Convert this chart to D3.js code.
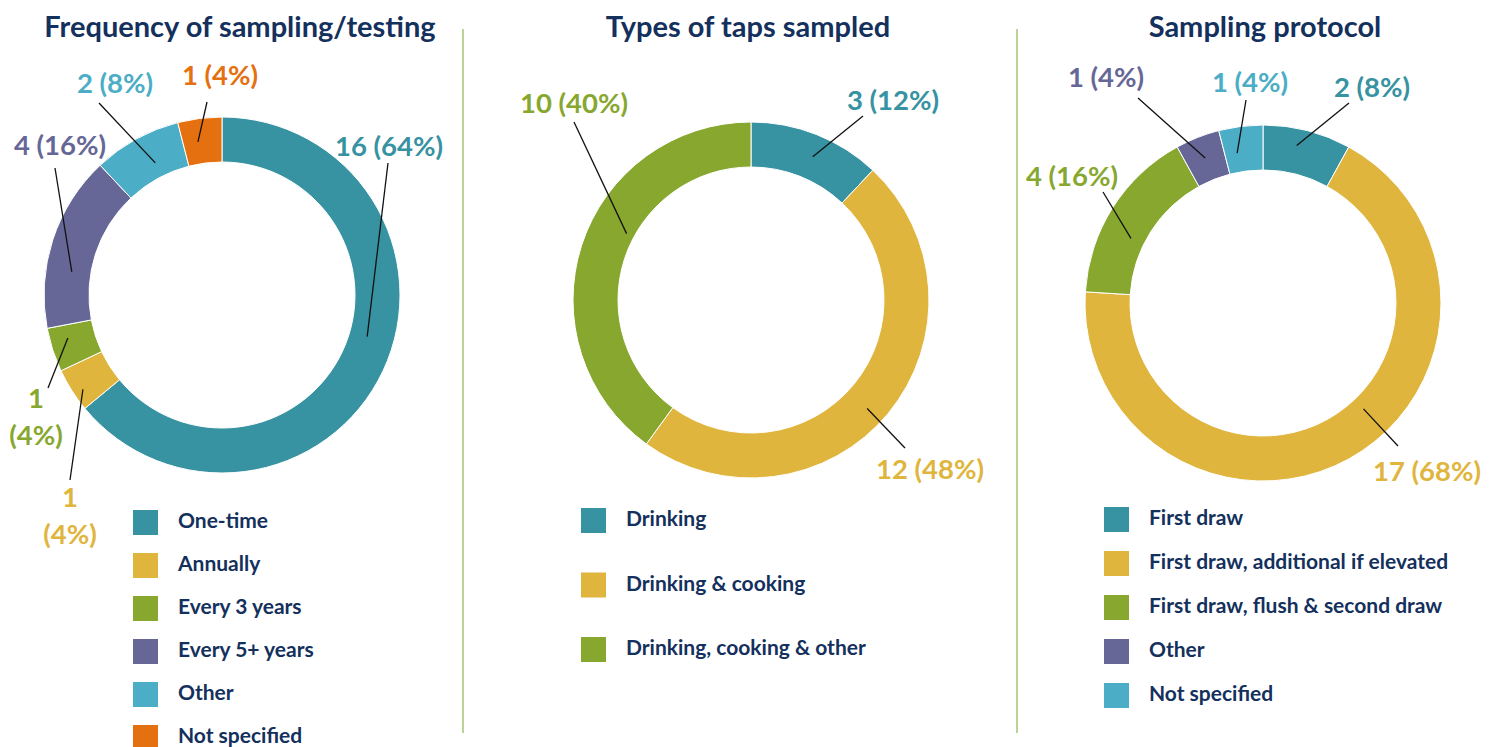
<!DOCTYPE html>
<html>
<head>
<meta charset="utf-8">
<script src="https://cdn.jsdelivr.net/npm/d3@7"></script>
<style>
  html, body { margin: 0; padding: 0; background: #fff; }
  svg { display: block; font-family: "Source Sans Pro", Lato, "Noto Sans", sans-serif; font-weight: 700; }
</style>
</head>
<body>
<svg id="chart" width="1497" height="747"></svg>
<script>
// ---------- data ----------
const titles = ["Frequency of sampling/testing", "Types of taps sampled", "Sampling protocol"];

const freqCategories = ["One-time", "Annually", "Every 3 years", "Every 5+ years", "Other", "Not specified"];
const freqValues     = [16, 1, 1, 4, 2, 1];
const freqLabels     = [["16 (64%)"], ["1", "(4%)"], ["1", "(4%)"], ["4 (16%)"], ["2 (8%)"], ["1 (4%)"]];

const tapCategories  = ["Drinking", "Drinking & cooking", "Drinking, cooking & other"];
const tapValues      = [3, 12, 10];
const tapLabels      = [["3 (12%)"], ["12 (48%)"], ["10 (40%)"]];

const protoCategories = ["First draw", "First draw, additional if elevated", "First draw, flush & second draw", "Other", "Not specified"];
const protoValues     = [2, 17, 4, 1, 1];
const protoLabels     = [["2 (8%)"], ["17 (68%)"], ["4 (16%)"], ["1 (4%)"], ["1 (4%)"]];

// ---------- styles ----------
const C = { teal: "#3792a1", yellow: "#e0b53d", green: "#87a72f", purple: "#676797", sky: "#4badc6", orange: "#e5700f" };
const navy = "#14305c";

const freqColors  = [C.teal, C.yellow, C.green, C.purple, C.sky, C.orange];
const tapColors   = [C.teal, C.yellow, C.green];
const protoColors = [C.teal, C.yellow, C.green, C.purple, C.sky];

// label layout: t = position along slice for leader start, r = leader start radius,
// e = leader outer end (offset from centre), l = label anchor (offset from centre)
const freqLayout = [
  { t: 0.46, r: 151, e: [166, -132], l: [167, -139] },
  { t: 0.38, r: 168, e: [-152, 185], l: [-152, 212] },
  { t: 0.67, r: 160, e: [-174, 93],  l: [-186, 113] },
  { t: 0.34, r: 152, e: [-167, -127], l: [-162, -140] },
  { t: 0.57, r: 148, e: [-123, -192], l: [-107, -202] },
  { t: 0.38, r: 155, e: [-15, -193], l: [-2, -210] }
];
const tapLayout = [
  { t: 0.54, r: 156, e: [112, -184], l: [142, -190] },
  { t: 0.52, r: 159, e: [154, 148],  l: [179, 179] },
  { t: 0.57, r: 141, e: [-177, -178], l: [-177, -187] }
];
const protoLayout = [
  { t: 0.42, r: 161, e: [86, -200],  l: [109, -206] },
  { t: 0.44, r: 146, e: [135, 143],  l: [164, 178] },
  { t: 0.39, r: 147, e: [-160, -111], l: [-191, -117] },
  { t: 0.49, r: 156, e: [-125, -205], l: [-157, -216] },
  { t: 0.32, r: 152, e: [-17, -203], l: [-13, -211] }
];

const charts = [
  { title: titles[0], titleX: 240, cats: freqCategories, vals: freqValues, labels: freqLabels, colors: freqColors, layout: freqLayout,
    cx: 222, cy: 295, legX: 133, legY: 510, legStep: 43 },
  { title: titles[1], titleX: 748, cats: tapCategories, vals: tapValues, labels: tapLabels, colors: tapColors, layout: tapLayout,
    cx: 751, cy: 300, legX: 581, legY: 508, legStep: 64.5 },
  { title: titles[2], titleX: 1265, cats: protoCategories, vals: protoValues, labels: protoLabels, colors: protoColors, layout: protoLayout,
    cx: 1263, cy: 303, legX: 1104, legY: 507, legStep: 44 }
];

const outerR = 178, innerR = 133;
const svg = d3.select("#chart");

// dividers
[463, 1017].forEach(x => {
  svg.append("line").attr("x1", x).attr("x2", x).attr("y1", 29).attr("y2", 733)
    .attr("stroke", "#a3c574").attr("stroke-width", 1.5);
});

const pie = d3.pie().sort(null).value(d => d);
const arc = d3.arc().innerRadius(innerR).outerRadius(outerR);

charts.forEach(ch => {
  svg.append("text").attr("x", ch.titleX).attr("y", 37).attr("text-anchor", "middle")
    .attr("fill", navy).attr("font-size", 29).text(ch.title);

  const g = svg.append("g").attr("transform", `translate(${ch.cx},${ch.cy})`);
  const arcs = pie(ch.vals);

  g.selectAll("path.slice").data(arcs).join("path")
    .attr("class", "slice")
    .attr("d", arc)
    .attr("fill", (d, i) => ch.colors[i])
    .attr("stroke", "#fff").attr("stroke-width", 1);

  // leader lines
  arcs.forEach((d, i) => {
    const L = ch.layout[i];
    const a = d.startAngle + (d.endAngle - d.startAngle) * L.t;
    const p = d3.arc().innerRadius(L.r).outerRadius(L.r).centroid({ startAngle: a, endAngle: a });
    g.append("line").attr("x1", p[0]).attr("y1", p[1]).attr("x2", L.e[0]).attr("y2", L.e[1])
      .attr("stroke", "#111").attr("stroke-width", 1.3);
    const t = g.append("text").attr("text-anchor", "middle").attr("fill", ch.colors[i]).attr("font-size", 27.5);
    ch.labels[i].forEach((line, k) => {
      t.append("tspan").attr("x", L.l[0]).attr("y", L.l[1] + k * 37).text(line);
    });
  });

  // legend
  const leg = svg.append("g");
  ch.cats.forEach((c, i) => {
    const y = ch.legY + i * ch.legStep;
    leg.append("rect").attr("x", ch.legX).attr("y", y).attr("width", 25).attr("height", 25).attr("fill", ch.colors[i]);
    leg.append("text").attr("x", ch.legX + 45).attr("y", y + 18).attr("fill", navy).attr("font-size", 21).text(c);
  });
});
</script>
</body>
</html>
